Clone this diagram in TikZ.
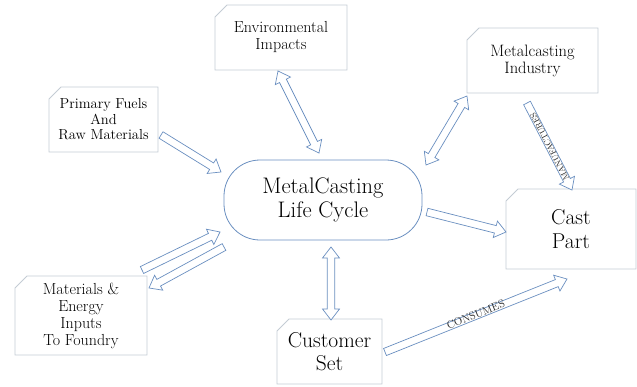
\documentclass[tikz,border=0pt]{standalone}
\usepackage{tikz}
\usetikzlibrary{calc}

\definecolor{arrowblue}{RGB}{106,143,192}
\definecolor{boxgray}{RGB}{196,204,212}

\tikzset{
  snipbox/.style={align=center, inner sep=0pt, outer sep=0pt,
    font=\fontsize{16}{17}\selectfont},
  bigtext/.style={font=\fontsize{21.5}{23.5}\selectfont},
  snipline/.style={draw=boxgray, line width=0.8pt},
  lifecycle/.style={draw=arrowblue, line width=0.8pt, rounded corners=36pt,
    minimum width=198pt, minimum height=80pt, align=center,
    inner sep=0pt, outer sep=0pt, font=\fontsize{22.5}{23.5}\selectfont},
  blockarrow/.style={draw=arrowblue, line width=0.7pt, fill=white, to path={
    let \p1=(\tikztostart), \p2=(\tikztotarget),
        \n1={atan2(\y2-\y1,\x2-\x1)}, \n2={veclen(\x2-\x1,\y2-\y1)} in
    {[shift={(\p1)}, rotate=\n1]
      (0pt,3.8pt) -- (\n2-11pt,3.8pt) -- (\n2-11pt,8.5pt) -- (\n2,0pt)
      -- (\n2-11pt,-8.5pt) -- (\n2-11pt,-3.8pt) -- (0pt,-3.8pt) -- cycle}}},
  blockdarrow/.style={draw=arrowblue, line width=0.7pt, fill=white, to path={
    let \p1=(\tikztostart), \p2=(\tikztotarget),
        \n1={atan2(\y2-\y1,\x2-\x1)}, \n2={veclen(\x2-\x1,\y2-\y1)} in
    {[shift={(\p1)}, rotate=\n1]
      (0pt,0pt) -- (11pt,8.5pt) -- (11pt,3.8pt) -- (\n2-11pt,3.8pt)
      -- (\n2-11pt,8.5pt) -- (\n2,0pt) -- (\n2-11pt,-8.5pt) -- (\n2-11pt,-3.8pt)
      -- (11pt,-3.8pt) -- (11pt,-8.5pt) -- cycle}}},
  arrowtext/.style={sloped, inner sep=0pt, text=black!85}
}

\begin{document}
\begin{tikzpicture}[x=1pt, y=-1pt]
  \useasboundingbox (0,0) rectangle (637,386);
  % boxes
  \node[snipbox, minimum width=132pt, minimum height=65pt] (env) at (281,37.5) {Environmental\\Impacts};
  \node[snipbox, minimum width=109pt, minimum height=65pt, font=\fontsize{14.5}{15.5}\selectfont] (prim) at (103.5,119.5) {Primary Fuels\\And\\Raw Materials};
  \node[snipbox, minimum width=131pt, minimum height=65pt, font=\fontsize{16.5}{17}\selectfont] (ind) at (532.5,60.5) {Metalcasting\\Industry};
  \node[snipbox, bigtext, minimum width=130pt, minimum height=80pt] (cast) at (571,229) {Cast\\Part};
  \node[snipbox, minimum width=132pt, minimum height=79pt] (mat) at (81,315.5) {Materials \&\\Energy\\Inputs\\To Foundry};
  \node[snipbox, bigtext, minimum width=105pt, minimum height=65pt] (cust) at (329.5,351.5) {Customer\\Set};
  % snipped outlines
  \foreach \b in {env,prim,ind,cast,mat,cust}
    \draw[snipline] (\b.south west) -- (\b.south east) -- (\b.north east)
      -- ([xshift=12pt]\b.north west) -- ([yshift=-12pt]\b.north west) -- cycle;
  % life cycle
  \node[lifecycle] (life) at (323,200) {MetalCasting\\Life Cycle};
  % arrows into and out of the life cycle
  \draw[blockarrow] ($(prim.east)+(3,15.5)$) to ($(life.west)+(-3,-28)$);
  \draw[blockdarrow] ($(env.south)+(-3,1)$) to ($(life.north)+(-4,-7)$);
  \draw[blockdarrow] ($(life.north east)+(4,5)$) to ($(ind.south west)+(0,3)$);
  \draw[blockarrow] ($(life.east)+(5,12)$) to ($(cast.west)+(0,3)$);
  \draw[blockdarrow] ($(life.south)+(8,7)$) to ($(cust.north)+(1.5,1)$);
  \draw[blockarrow] ($(mat.north east)+(-5,-6)$) to ($(life.west)+(-4,32)$);
  \draw[blockarrow] ($(life.west)+(0,47)$) to ($(mat.north east)+(2,12)$);
  % manufactures / consumes
  \draw[blockarrow] ($(ind.south)+(-5.5,10)$) to ($(cast.north)+(1,1)$);
  \draw[blockarrow] ($(cust.east)+(3,0.5)$) to ($(cast.south)+(-4,10)$);
  \path ($(cast.north)+(1,1)$) -- ($(ind.south)+(-5.5,10)$)
    node[arrowtext, midway, allow upside down, font=\fontsize{8.5}{8.5}\selectfont] {MANUFACTURES};
  \path ($(cust.east)+(3,0.5)$) -- ($(cast.south)+(-4,10)$)
    node[arrowtext, midway, yshift=1pt, font=\fontsize{11}{11}\selectfont] {CONSUMES};
\end{tikzpicture}
\end{document}
